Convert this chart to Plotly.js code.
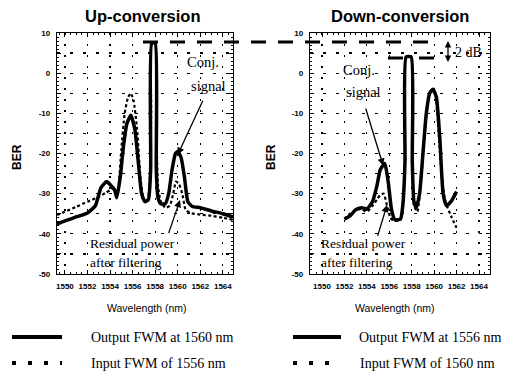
<!DOCTYPE html>
<html>
<head>
<meta charset="utf-8">
<script src="https://cdn.plot.ly/plotly-3.0.1.min.js"></script>
<style>html,body{margin:0;padding:0;background:#fff;}#chart{width:524px;height:378px;}</style>
</head>
<body>
<div id="chart"></div>
<script>
// ---- Data ----
// Up-conversion: Output FWM at 1560 nm (solid)
const upOutX = [1549.3, 1550, 1551, 1552, 1552.7, 1553.2, 1553.7, 1554.1, 1554.4, 1554.6, 1554.9, 1555.2, 1555.5, 1555.85, 1556.2, 1556.5, 1556.8, 1557.1, 1557.4, 1557.6, 1557.7, 1558.0, 1558.1, 1558.25, 1558.5, 1558.9, 1559.2, 1559.5, 1559.8, 1560.0, 1560.3, 1560.6, 1560.9, 1561.3, 1562, 1563, 1564, 1564.9];
const upOutY = [-37.6, -36.8, -35.8, -34.8, -33, -28.5, -27, -28, -29, -31, -26, -18, -12.5, -10.5, -14, -22, -30, -32, -31.5, -24, 7.5, 7.5, -24, -31, -32.5, -32.5, -30, -24, -20, -19.5, -21, -26, -32, -33.2, -33.5, -34.3, -35, -35.8];
// Up-conversion: Input FWM of 1556 nm (dotted)
const upInX = [1549.3, 1550, 1551, 1552, 1553, 1553.6, 1554.1, 1554.4, 1554.6, 1554.8, 1555.0, 1555.3, 1555.6, 1555.85, 1556.1, 1556.4, 1556.7, 1557.0, 1557.3, 1557.5, 1557.65, 1557.7, 1558.0, 1558.1, 1558.25, 1558.5, 1558.9, 1559.3, 1559.6, 1559.85, 1560.1, 1560.4, 1560.7, 1561.1, 1562, 1563, 1564, 1564.9];
const upInY = [-35.3, -34.5, -33.3, -32, -30.8, -29.8, -29, -28.5, -31, -27, -19, -10, -6, -5, -7, -14, -26, -31.5, -31.8, -28, -10, 7.5, 7.5, -10, -28, -32, -33.5, -33, -30, -27, -27.5, -30, -34, -34.8, -35.2, -35.5, -36, -36.5];
// Down-conversion: Output FWM at 1556 nm (solid)
const downOutX = [1552.0, 1552.5, 1553.0, 1553.5, 1554.0, 1554.5, 1554.9, 1555.2, 1555.6, 1555.9, 1556.2, 1556.5, 1557.0, 1557.2, 1557.4, 1557.5, 1557.95, 1558.05, 1558.2, 1558.4, 1558.7, 1559.0, 1559.3, 1559.6, 1559.9, 1560.2, 1560.5, 1560.8, 1561.1, 1561.5, 1562.0];
const downOutY = [-36.3, -35.5, -34, -33.5, -33.8, -32, -28, -24, -22.5, -27, -34, -36.5, -36.3, -33, -22, 4, 4, -22, -32, -33.5, -30, -20, -10, -5, -4, -6, -16, -30, -33, -32, -29.5];
// Down-conversion: Input FWM of 1560 nm (dotted)
const downInX = [1552.0, 1552.5, 1553.0, 1553.5, 1554.0, 1554.5, 1554.9, 1555.2, 1555.5, 1555.8, 1556.1, 1556.4, 1557.0, 1557.2, 1557.4, 1557.5, 1557.95, 1558.05, 1558.2, 1558.5, 1558.8, 1559.1, 1559.4, 1559.65, 1559.9, 1560.15, 1560.4, 1560.7, 1561.0, 1561.5, 1562.0];
const downInY = [-36.3, -35, -34.2, -33.8, -34.5, -33, -31.5, -30.3, -30, -33, -36, -36.8, -36.5, -33, -22, 4, 4, -22, -33, -34.5, -28, -17, -8, -4.5, -4, -6, -15, -26, -32, -35.5, -38.5];

const xTickVals = [1550, 1552, 1554, 1556, 1558, 1560, 1562, 1564];
const yTickVals = [-50, -45, -40, -35, -30, -25, -20, -15, -10, -5, 0, 5, 10];
const yTickText = ['-50', '', '-40', '', '-30', '', '-20', '', '-10', '', '0', '', '10'];

const panelTitles = ['Up-conversion', 'Down-conversion'];
const xTitle = 'Wavelength (nm)';
const yTitle = 'BER';
const legendNames = ['Output FWM at 1560 nm', 'Input FWM of 1556 nm', 'Output FWM at 1556 nm', 'Input FWM of 1560 nm'];

// ---- Helpers ----
const W = 524, H = 378;
const px = v => v / W;
const py = v => 1 - v / H;

const solid = {color: '#000', width: 3.5, shape: 'spline', smoothing: 0.5};
const dotted = {color: '#000', width: 2.2, dash: '3px,2.5px', shape: 'spline', smoothing: 0.5};

const traces = [
  {x: upOutX, y: upOutY, xaxis: 'x', yaxis: 'y', mode: 'lines', line: solid, name: legendNames[0], showlegend: false},
  {x: upInX, y: upInY, xaxis: 'x', yaxis: 'y', mode: 'lines', line: dotted, name: legendNames[1], showlegend: false},
  {x: downOutX, y: downOutY, xaxis: 'x2', yaxis: 'y2', mode: 'lines', line: solid, name: legendNames[2], showlegend: false},
  {x: downInX, y: downInY, xaxis: 'x2', yaxis: 'y2', mode: 'lines', line: dotted, name: legendNames[3], showlegend: false}
];

const tickFont = {family: 'Liberation Sans, Arial, sans-serif', size: 8, color: '#000', weight: 'bold'};
function xAxis(domain, range, anchor) {
  return {
    domain: domain, range: range, anchor: anchor,
    tickvals: xTickVals, ticks: 'inside', ticklen: 4, tickwidth: 1, tickcolor: '#000',
    showline: true, linecolor: '#000', linewidth: 1.2, mirror: 'ticks',
    showgrid: true, gridcolor: '#000', gridwidth: 1.2, griddash: '2px,9px',
    zeroline: false, tickfont: tickFont, ticklabelstandoff: 4,
    minor: {dtick: 0.5, ticks: 'inside', ticklen: 2, tickcolor: '#000', showgrid: false}
  };
}
function yAxis(domain, anchor) {
  return {
    domain: domain, range: [-50, 10], anchor: anchor,
    tickvals: yTickVals, ticktext: yTickText, ticks: 'inside', ticklen: 4, tickwidth: 1, tickcolor: '#000',
    showline: true, linecolor: '#000', linewidth: 1.2, mirror: 'ticks',
    showgrid: true, gridcolor: '#000', gridwidth: 1.2, griddash: '3px,10px',
    zeroline: false, tickfont: tickFont, ticklabelstandoff: 4,
    minor: {dtick: 1, ticks: 'inside', ticklen: 2, tickcolor: '#000', showgrid: false}
  };
}

const serif = (s) => ({family: 'Liberation Serif, Times New Roman, serif', size: s, color: '#000'});
const sans = (s, w) => ({family: 'Liberation Sans, Arial, sans-serif', size: s, color: '#000', weight: w || 'normal'});

function txt(text, x, y, font, xanchor, textangle) {
  return {text: text, xref: 'paper', yref: 'paper', x: px(x), y: py(y), showarrow: false,
          xanchor: xanchor || 'center', yanchor: 'middle', font: font, textangle: textangle || 0};
}
function arrow(xref, yref, x, y, ax, ay) {
  return {text: ' ', xref: xref, yref: yref, x: x, y: y, ax: ax, ay: ay, showarrow: true,
          arrowhead: 2, arrowsize: 1.1, arrowwidth: 1.3, arrowcolor: '#000', standoff: 0, startstandoff: 0,
          font: {size: 1}};
}

const annotations = [
  txt(panelTitles[0], 143, 16, sans(16.5, 'bold')),
  txt(panelTitles[1], 400, 16, sans(16.5, 'bold')),
  txt(xTitle, 147, 308, sans(10.5)),
  txt(xTitle, 395, 308, sans(10.5)),
  txt(yTitle, 17, 157, sans(12, 'bold'), 'center', -90),
  txt(yTitle, 271, 157, sans(12, 'bold'), 'center', -90),
  // Up-conversion labels
  txt('Conj.', 203, 62, serif(14.5)),
  txt('signal', 208, 86, serif(14.5)),
  txt('Residual power', 88, 243, serif(13.5), 'left'),
  txt('after filtering', 88, 262, serif(13.5), 'left'),
  arrow('x', 'y', 1560.0, -20.3, 26, -56),
  arrow('x', 'y', 1560.2, -31.6, -12, 35),
  // Down-conversion labels
  txt('Conj.', 359, 70, serif(14.5)),
  txt('signal', 363, 92, serif(14.5)),
  txt('Residual power', 319, 243, serif(13.5), 'left'),
  txt('after filtering', 319, 262, serif(13.5), 'left'),
  arrow('x2', 'y2', 1555.45, -23, -18, -59),
  arrow('x2', 'y2', 1555.8, -32.8, -10, 33),
  txt('2 dB', 468, 52, serif(14)),
  {text: ' ', xref: 'paper', yref: 'paper', x: px(448), y: py(62), ax: 0, ay: -23, showarrow: true,
   arrowhead: 2, arrowside: 'end+start', arrowsize: 1, arrowwidth: 1.3, arrowcolor: '#000', standoff: 0, startstandoff: 0, font: {size: 1}},
  // Legend texts
  txt(legendNames[0], 89, 337, serif(14), 'left'),
  txt(legendNames[1], 89, 363, serif(14), 'left'),
  txt(legendNames[2], 357, 337, serif(14), 'left'),
  txt(legendNames[3], 358, 363, serif(14), 'left')
];

const shapes = [
  // reference level dashed lines
  {type: 'line', xref: 'paper', yref: 'paper', x0: px(143), x1: px(436), y0: py(42), y1: py(42),
   line: {color: '#000', width: 3, dash: '15px,12px'}},
  {type: 'line', xref: 'paper', yref: 'paper', x0: px(388), x1: px(434), y0: py(58), y1: py(58),
   line: {color: '#000', width: 3, dash: '15px,16px'}},
  // legend symbols
  {type: 'line', xref: 'paper', yref: 'paper', x0: px(12), x1: px(62), y0: py(337), y1: py(337), line: {color: '#000', width: 4}},
  {type: 'line', xref: 'paper', yref: 'paper', x0: px(12), x1: px(62), y0: py(363), y1: py(363), line: {color: '#000', width: 4, dash: '4px,12px'}},
  {type: 'line', xref: 'paper', yref: 'paper', x0: px(293), x1: px(341), y0: py(337), y1: py(337), line: {color: '#000', width: 4}},
  {type: 'line', xref: 'paper', yref: 'paper', x0: px(293), x1: px(341), y0: py(363), y1: py(363), line: {color: '#000', width: 4, dash: '4px,12px'}}
];

const layout = {
  width: W, height: H,
  margin: {l: 0, r: 0, t: 0, b: 0},
  paper_bgcolor: '#fff', plot_bgcolor: '#fff',
  showlegend: false,
  xaxis: xAxis([px(57), px(233)], [1549.3, 1564.9], 'y'),
  yaxis: yAxis([py(274), py(33)], 'x'),
  xaxis2: xAxis([px(310), px(490)], [1548.93, 1564.98], 'y2'),
  yaxis2: yAxis([py(274), py(33)], 'x2'),
  annotations: annotations,
  shapes: shapes
};

Plotly.newPlot('chart', traces, layout, {staticPlot: true, displayModeBar: false});
</script>
</body>
</html>
